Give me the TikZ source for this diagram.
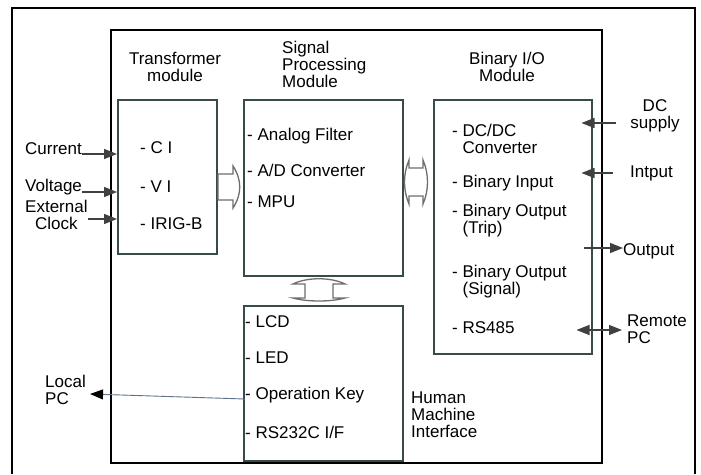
\documentclass[tikz,border=0pt]{standalone}
\usepackage{fontspec}
\setmainfont{Liberation Sans}
\usetikzlibrary{positioning, arrows.meta, calc}
\definecolor{BoxGray}{RGB}{55,75,75}
\definecolor{BusGray}{RGB}{110,110,110}
\definecolor{LinkBlue}{RGB}{95,115,140}

\begin{document}
\begin{tikzpicture}[x=1pt, y=-1pt,
  every node/.style={font=\fontsize{17}{17}\selectfont, inner sep=0pt},
  modbox/.style={draw=BoxGray, line width=1.5pt, anchor=north west},
  item/.style={anchor=west},
  title/.style={align=center},
  sig/.style={draw=black!75, line width=1.2pt, -{Triangle[length=13pt,width=10pt]}},
  bus/.style={draw=BusGray, line width=1.3pt}]
\useasboundingbox (0,0) rectangle (701,474);
\fill[white] (0,0) rectangle (701,474);

% Outer frame and main box
\draw[line width=1.5pt] (12,474) -- (12,8) -- (695,8) -- (695,474);
\node[draw, line width=2pt, anchor=north west, minimum width=491pt, minimum height=433pt] (main) at (110,29) {};

% Module boxes
\node[modbox, minimum width=99pt, minimum height=154pt] (tm) at (117,99) {};
\node[modbox, minimum width=159pt, minimum height=176pt] (sp) at (243,99) {};
\node[modbox, minimum width=158pt, minimum height=254pt] (bio) at (433,99) {};
\node[modbox, minimum width=159pt, minimum height=155pt] (hmi) at (243,305) {};

% Module titles
\node[title] (tmt) at (175,67) {Transformer\\module};
\node[align=left, anchor=west] (spt) at (282,64) {Signal\\Processing\\Module};
\node[title] (biot) at (507,67) {Binary I/O\\Module};
\node[align=left, anchor=west] (hmit) at (411,415) {Human\\Machine\\Interface};

% Transformer items
\node[item] (ci) at (140,148) {- C I};
\node[item] (vi) at (140,187) {- V I};
\node[item] (irig) at (140,224) {- IRIG-B};

% Signal processing items
\node[item] (af) at (247,136) {- Analog Filter};
\node[item] (adc) at (247,170) {- A/D Converter};
\node[item] (mpu) at (247,202) {- MPU};

% Binary I/O items
\node[item, align=left] (dcdc) at (452,139) {- DC/DC\\\phantom{- }Converter};
\node[item] (bin) at (452,183) {- Binary Input};
\node[item, align=left] (bout1) at (452,221) {- Binary Output\\\phantom{- }(Trip)};
\node[item, align=left] (bout2) at (452,282) {- Binary Output\\\phantom{- }(Signal)};
\node[item] (rs485) at (452,328) {- RS485};

% HMI items
\node[item] (lcd) at (245,322) {- LCD};
\node[item] (led) at (245,358) {- LED};
\node[item] (opk) at (245,395) {- Operation Key};
\node[item] (rs232) at (245,432) {- RS232C I/F};

% Outside signals
\node[anchor=west] (cur) at (25,149) {Current};
\node[anchor=west] (volt) at (25,187) {Voltage};
\node[anchor=west, align=center] (clk) at (25,215) {External\\Clock};
\node[anchor=west, align=left] (lpc) at (45,390) {Local\\PC};
\node[align=center] (dc) at (655,116) {DC\\supply};
\node[anchor=west] (inp) at (630,173) {Intput};
\node[anchor=west] (outp) at (623,251) {Output};
\node[anchor=west, align=left] (rpc) at (627,329) {Remote\\PC};

% Input arrows
\draw[sig] ([yshift=-5pt]cur.east) -- ([yshift=-5pt]cur.east -| tm.west);
\draw[sig] ([yshift=-5pt]volt.east) -- ([yshift=-5pt]volt.east -| tm.west);
\draw[sig] ([yshift=-4pt]clk.east) -- ([yshift=-4pt]clk.east -| tm.west);
\draw[sig] ([xshift=-14pt,yshift=-7pt]dc.west) -- ([xshift=-11pt,yshift=-7pt]dc.west -| bio.east);
\draw[sig] ([xshift=-17pt]inp.west) -- ([xshift=-11pt]inp.west -| bio.east);
\draw[sig] ([xshift=-9pt,yshift=3pt]outp.west -| bio.east) -- ([yshift=3pt]outp.west);
\draw[sig, {Triangle[length=13pt,width=10pt]}-{Triangle[length=13pt,width=10pt]}]
  ([xshift=-16pt,yshift=-1pt]rpc.west -| bio.east) -- ([xshift=-5pt,yshift=-1pt]rpc.west);
\draw[draw=LinkBlue, line width=0.9pt, -{Triangle[length=13pt,width=10pt,black]}]
  ([yshift=-4pt]opk.west) -- ([xshift=4pt,yshift=-4pt]lpc.east);

% Bus between modules
\draw[bus] (218,174) -- (233,174) -- (233,166) .. controls (242,180) and (242,194) .. (233,208)
  -- (233,200) -- (218,200) -- cycle;
\draw[bus] (409,160) -- (409,168) -- (423,168) -- (423,160) .. controls (429,174) and (429,190) .. (423,204)
  -- (423,196) -- (409,196) -- (409,204) .. controls (403,190) and (403,174) .. (409,160) -- cycle;
\draw[bus] (293,284) .. controls (307,277) and (331,277) .. (345,284) -- (333,284) -- (333,298)
  -- (345,298) .. controls (331,302) and (307,302) .. (293,298) -- (305,298) -- (305,284) -- cycle;
\end{tikzpicture}
\end{document}
